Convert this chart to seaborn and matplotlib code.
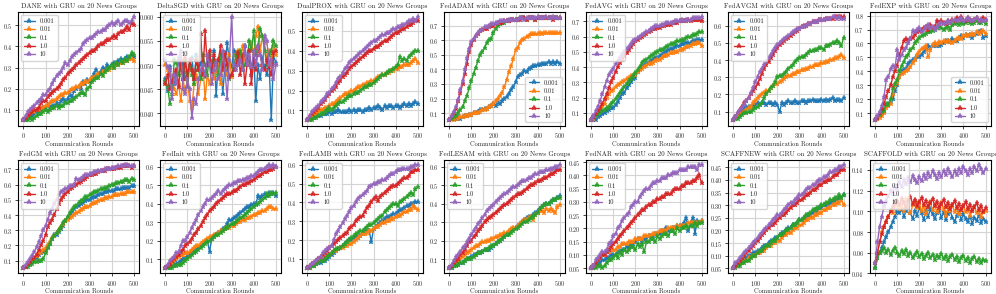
import matplotlib
matplotlib.use("Agg")
import matplotlib.pyplot as plt
from matplotlib.ticker import MultipleLocator
import seaborn as sns

rounds = list(range(0, 501, 10))
lrs = ["0.001", "0.01", "0.1", "1.0", "10"]

# each panel: series for lr 0.001, 0.01, 0.1, 1.0, 10
dane = [
    [0.05,0.05,0.06,0.07,0.07,0.08,0.09,0.08,0.10,0.11,0.10,0.12,0.11,0.12,0.12,0.13,0.12,0.14,0.15,0.14,
     0.15,0.17,0.16,0.19,0.20,0.21,0.20,0.23,0.22,0.24,0.23,0.25,0.27,0.29,0.27,0.28,0.30,0.29,0.31,0.30,
     0.31,0.32,0.31,0.33,0.34,0.33,0.34,0.35,0.34,0.36,0.35],
    [0.05,0.06,0.07,0.08,0.09,0.09,0.10,0.10,0.11,0.11,0.12,0.12,0.13,0.14,0.14,0.15,0.16,0.17,0.17,0.18,
     0.18,0.19,0.20,0.20,0.21,0.21,0.22,0.22,0.23,0.23,0.24,0.25,0.25,0.26,0.27,0.27,0.28,0.28,0.29,0.29,
     0.30,0.30,0.31,0.31,0.32,0.32,0.33,0.33,0.34,0.34,0.33],
    [0.05,0.05,0.05,0.06,0.05,0.06,0.07,0.08,0.08,0.09,0.10,0.09,0.10,0.11,0.11,0.12,0.11,0.12,0.12,0.13,
     0.13,0.14,0.14,0.15,0.16,0.17,0.18,0.18,0.17,0.20,0.21,0.23,0.24,0.25,0.25,0.27,0.26,0.28,0.29,0.30,
     0.31,0.30,0.32,0.31,0.33,0.32,0.34,0.33,0.35,0.37,0.36],
    [0.05,0.06,0.07,0.08,0.09,0.10,0.10,0.11,0.13,0.14,0.14,0.16,0.17,0.18,0.19,0.20,0.21,0.22,0.24,0.25,
     0.27,0.28,0.29,0.30,0.31,0.32,0.33,0.34,0.35,0.36,0.37,0.38,0.38,0.39,0.40,0.41,0.41,0.42,0.43,0.43,
     0.44,0.45,0.44,0.46,0.47,0.47,0.48,0.49,0.48,0.51,0.50],
    [0.05,0.07,0.09,0.10,0.11,0.12,0.13,0.14,0.15,0.17,0.17,0.19,0.20,0.22,0.24,0.26,0.27,0.28,0.30,0.32,
     0.31,0.33,0.35,0.36,0.37,0.38,0.39,0.41,0.42,0.43,0.44,0.44,0.45,0.46,0.47,0.47,0.48,0.48,0.49,0.50,
     0.51,0.50,0.51,0.52,0.50,0.51,0.52,0.52,0.51,0.52,0.54],
]

deltasgd = [
    [0.0470,0.0445,0.0495,0.0465,0.0460,0.0480,0.0510,0.0490,0.0505,0.0470,0.0485,0.0500,0.0515,0.0470,0.0520,
     0.0490,0.0505,0.0480,0.0475,0.0500,0.0510,0.0495,0.0530,0.0435,0.0505,0.0520,0.0440,0.0500,0.0545,0.0510,
     0.0495,0.0530,0.0525,0.0500,0.0510,0.0490,0.0540,0.0505,0.0515,0.0480,0.0520,0.0425,0.0500,0.0470,0.0515,
     0.0495,0.0480,0.0505,0.0385,0.0520,0.0505],
    [0.0500,0.0490,0.0480,0.0470,0.0450,0.0440,0.0460,0.0425,0.0470,0.0445,0.0470,0.0425,0.0410,0.0460,0.0480,
     0.0440,0.0470,0.0500,0.0430,0.0480,0.0460,0.0490,0.0470,0.0485,0.0500,0.0460,0.0500,0.0510,0.0480,0.0520,
     0.0475,0.0490,0.0520,0.0530,0.0515,0.0540,0.0510,0.0500,0.0530,0.0545,0.0520,0.0560,0.0580,0.0530,0.0560,
     0.0545,0.0510,0.0530,0.0500,0.0540,0.0520],
    [0.0465,0.0455,0.0420,0.0440,0.0510,0.0505,0.0480,0.0495,0.0470,0.0510,0.0455,0.0500,0.0480,0.0460,0.0510,
     0.0490,0.0470,0.0520,0.0500,0.0480,0.0520,0.0490,0.0510,0.0500,0.0480,0.0520,0.0500,0.0490,0.0510,0.0470,
     0.0480,0.0500,0.0520,0.0510,0.0530,0.0490,0.0500,0.0510,0.0550,0.0530,0.0570,0.0520,0.0540,0.0575,0.0560,
     0.0530,0.0500,0.0520,0.0530,0.0550,0.0540],
    [0.0460,0.0480,0.0450,0.0465,0.0480,0.0490,0.0455,0.0510,0.0470,0.0515,0.0475,0.0510,0.0490,0.0470,0.0510,
     0.0490,0.0565,0.0480,0.0570,0.0500,0.0530,0.0485,0.0520,0.0500,0.0510,0.0540,0.0490,0.0525,0.0500,0.0475,
     0.0480,0.0490,0.0500,0.0525,0.0480,0.0520,0.0460,0.0500,0.0530,0.0460,0.0510,0.0490,0.0535,0.0520,0.0500,
     0.0490,0.0510,0.0495,0.0480,0.0525,0.0530],
    [0.0510,0.0495,0.0490,0.0430,0.0480,0.0460,0.0515,0.0530,0.0450,0.0440,0.0470,0.0450,0.0390,0.0430,0.0420,
     0.0470,0.0490,0.0500,0.0480,0.0520,0.0500,0.0460,0.0490,0.0505,0.0470,0.0480,0.0530,0.0490,0.0430,0.0510,
     0.0600,0.0500,0.0490,0.0500,0.0510,0.0490,0.0540,0.0500,0.0520,0.0495,0.0530,0.0500,0.0540,0.0520,0.0490,
     0.0560,0.0550,0.0500,0.0510,0.0470,0.0500],
]

dualprox = [
    [0.05,0.06,0.06,0.06,0.07,0.07,0.07,0.08,0.08,0.08,0.09,0.08,0.09,0.09,0.10,0.09,0.09,0.09,0.09,0.10,
     0.09,0.10,0.09,0.10,0.10,0.09,0.10,0.10,0.11,0.10,0.11,0.11,0.12,0.11,0.10,0.12,0.11,0.12,0.12,0.11,
     0.12,0.12,0.11,0.12,0.13,0.12,0.13,0.12,0.13,0.14,0.13],
    [0.05,0.06,0.07,0.08,0.08,0.09,0.10,0.10,0.11,0.11,0.12,0.13,0.13,0.14,0.15,0.16,0.17,0.18,0.18,0.19,
     0.20,0.20,0.21,0.22,0.22,0.23,0.23,0.24,0.24,0.25,0.25,0.26,0.27,0.27,0.28,0.28,0.29,0.29,0.30,0.30,
     0.31,0.31,0.32,0.32,0.33,0.33,0.33,0.34,0.35,0.36,0.34],
    [0.05,0.05,0.05,0.06,0.06,0.07,0.08,0.08,0.09,0.10,0.11,0.10,0.11,0.12,0.13,0.14,0.14,0.15,0.16,0.17,
     0.17,0.18,0.19,0.19,0.20,0.21,0.22,0.22,0.23,0.23,0.24,0.25,0.26,0.27,0.28,0.28,0.29,0.30,0.30,0.31,
     0.32,0.33,0.37,0.35,0.36,0.35,0.37,0.38,0.39,0.40,0.40],
    [0.05,0.07,0.08,0.09,0.10,0.11,0.13,0.14,0.15,0.17,0.18,0.20,0.21,0.22,0.24,0.25,0.27,0.28,0.29,0.31,
     0.32,0.33,0.34,0.35,0.36,0.37,0.38,0.39,0.40,0.40,0.41,0.42,0.42,0.43,0.44,0.45,0.45,0.46,0.47,0.48,
     0.49,0.49,0.50,0.51,0.51,0.52,0.53,0.53,0.54,0.55,0.55],
    [0.05,0.07,0.09,0.10,0.11,0.12,0.14,0.15,0.16,0.18,0.19,0.21,0.22,0.24,0.26,0.27,0.29,0.31,0.32,0.34,
     0.35,0.36,0.37,0.38,0.39,0.40,0.41,0.42,0.43,0.44,0.45,0.45,0.46,0.47,0.48,0.48,0.49,0.49,0.50,0.51,
     0.51,0.52,0.52,0.53,0.53,0.54,0.55,0.55,0.56,0.55,0.57],
]

fedadam = [
    [0.05,0.06,0.06,0.06,0.07,0.06,0.07,0.08,0.08,0.09,0.09,0.10,0.10,0.11,0.12,0.12,0.13,0.13,0.14,0.15,
     0.16,0.15,0.17,0.16,0.18,0.20,0.21,0.23,0.26,0.28,0.31,0.35,0.36,0.37,0.39,0.38,0.40,0.41,0.42,0.42,
     0.43,0.43,0.44,0.44,0.44,0.45,0.44,0.45,0.44,0.45,0.44],
    [0.05,0.06,0.05,0.07,0.06,0.07,0.07,0.08,0.08,0.09,0.09,0.10,0.10,0.10,0.11,0.12,0.12,0.13,0.14,0.15,
     0.16,0.18,0.20,0.22,0.24,0.28,0.33,0.38,0.42,0.47,0.53,0.55,0.58,0.60,0.61,0.62,0.63,0.64,0.64,0.64,
     0.64,0.65,0.64,0.65,0.65,0.65,0.65,0.65,0.65,0.65,0.65],
    [0.05,0.06,0.07,0.08,0.10,0.12,0.14,0.18,0.22,0.27,0.32,0.37,0.41,0.46,0.50,0.52,0.55,0.58,0.60,0.61,
     0.65,0.68,0.70,0.71,0.72,0.72,0.73,0.73,0.74,0.74,0.74,0.74,0.75,0.75,0.75,0.74,0.75,0.75,0.75,0.74,
     0.75,0.75,0.75,0.75,0.75,0.75,0.75,0.75,0.75,0.75,0.75],
    [0.05,0.08,0.10,0.13,0.18,0.24,0.30,0.37,0.44,0.52,0.57,0.60,0.63,0.64,0.66,0.67,0.68,0.68,0.69,0.70,
     0.70,0.71,0.72,0.72,0.72,0.73,0.73,0.73,0.74,0.74,0.74,0.74,0.74,0.75,0.75,0.74,0.75,0.75,0.75,0.74,
     0.75,0.75,0.75,0.75,0.75,0.75,0.75,0.74,0.75,0.75,0.75],
    [0.05,0.08,0.11,0.14,0.19,0.26,0.32,0.40,0.48,0.54,0.59,0.61,0.63,0.65,0.66,0.67,0.69,0.69,0.70,0.71,
     0.71,0.72,0.72,0.73,0.73,0.73,0.73,0.74,0.74,0.74,0.74,0.74,0.75,0.75,0.74,0.75,0.75,0.75,0.75,0.75,
     0.76,0.75,0.75,0.75,0.76,0.75,0.75,0.76,0.75,0.75,0.75],
]

fedavg = [
    [0.05,0.05,0.05,0.07,0.08,0.09,0.10,0.11,0.12,0.13,0.13,0.15,0.17,0.20,0.22,0.23,0.26,0.28,0.30,0.32,
     0.33,0.37,0.39,0.40,0.41,0.42,0.43,0.44,0.45,0.46,0.46,0.47,0.48,0.49,0.50,0.51,0.52,0.52,0.53,0.54,
     0.54,0.55,0.55,0.56,0.56,0.56,0.57,0.57,0.58,0.58,0.58],
    [0.05,0.06,0.08,0.10,0.12,0.14,0.16,0.20,0.22,0.24,0.25,0.27,0.28,0.29,0.30,0.31,0.32,0.33,0.34,0.34,
     0.35,0.37,0.38,0.39,0.40,0.41,0.42,0.42,0.43,0.44,0.45,0.45,0.46,0.47,0.47,0.48,0.49,0.49,0.50,0.50,
     0.51,0.51,0.52,0.53,0.53,0.54,0.55,0.55,0.56,0.56,0.54],
    [0.05,0.07,0.08,0.09,0.10,0.11,0.12,0.13,0.14,0.16,0.17,0.19,0.21,0.23,0.25,0.27,0.29,0.31,0.32,0.34,
     0.36,0.38,0.40,0.43,0.44,0.45,0.46,0.47,0.48,0.49,0.50,0.51,0.51,0.52,0.53,0.54,0.55,0.55,0.56,0.57,
     0.57,0.58,0.58,0.59,0.60,0.60,0.61,0.61,0.62,0.63,0.63],
    [0.05,0.07,0.09,0.11,0.13,0.16,0.19,0.22,0.26,0.30,0.33,0.37,0.40,0.43,0.45,0.47,0.49,0.51,0.53,0.55,
     0.57,0.58,0.59,0.60,0.61,0.62,0.63,0.64,0.65,0.65,0.66,0.66,0.67,0.67,0.68,0.68,0.68,0.69,0.69,0.69,
     0.70,0.70,0.70,0.70,0.71,0.70,0.71,0.71,0.71,0.71,0.70],
    [0.05,0.08,0.11,0.14,0.18,0.22,0.27,0.31,0.35,0.37,0.39,0.42,0.44,0.46,0.48,0.50,0.52,0.53,0.55,0.57,
     0.58,0.59,0.60,0.61,0.62,0.63,0.64,0.65,0.66,0.67,0.67,0.67,0.68,0.68,0.69,0.69,0.69,0.69,0.70,0.70,
     0.70,0.71,0.70,0.71,0.71,0.71,0.72,0.72,0.72,0.72,0.73],
]

fedavgm = [
    [0.05,0.07,0.09,0.10,0.11,0.12,0.13,0.13,0.13,0.14,0.14,0.15,0.14,0.15,0.15,0.14,0.15,0.15,0.14,0.15,
     0.14,0.10,0.15,0.14,0.15,0.16,0.15,0.15,0.16,0.15,0.15,0.16,0.16,0.15,0.16,0.16,0.17,0.16,0.16,0.16,
     0.17,0.16,0.17,0.16,0.17,0.18,0.16,0.17,0.17,0.16,0.18],
    [0.05,0.06,0.07,0.08,0.09,0.10,0.11,0.12,0.13,0.15,0.16,0.18,0.19,0.20,0.21,0.22,0.22,0.24,0.25,0.26,
     0.26,0.27,0.28,0.29,0.30,0.31,0.31,0.32,0.32,0.33,0.33,0.34,0.34,0.35,0.35,0.36,0.36,0.37,0.37,0.37,
     0.38,0.38,0.39,0.39,0.40,0.40,0.41,0.41,0.42,0.43,0.41],
    [0.05,0.06,0.06,0.07,0.08,0.09,0.09,0.10,0.10,0.11,0.12,0.13,0.14,0.15,0.18,0.20,0.22,0.24,0.25,0.27,
     0.30,0.31,0.31,0.32,0.33,0.35,0.36,0.37,0.39,0.40,0.41,0.42,0.42,0.43,0.44,0.45,0.45,0.46,0.46,0.47,
     0.47,0.46,0.48,0.48,0.49,0.50,0.50,0.51,0.50,0.48,0.53],
    [0.05,0.07,0.09,0.11,0.13,0.15,0.16,0.18,0.20,0.22,0.24,0.26,0.29,0.32,0.35,0.37,0.39,0.41,0.43,0.45,
     0.47,0.49,0.50,0.51,0.52,0.53,0.54,0.55,0.56,0.57,0.58,0.59,0.60,0.60,0.61,0.61,0.62,0.62,0.62,0.63,
     0.63,0.63,0.64,0.64,0.64,0.64,0.65,0.65,0.65,0.65,0.65],
    [0.05,0.07,0.09,0.11,0.12,0.14,0.16,0.18,0.21,0.24,0.27,0.30,0.33,0.35,0.37,0.39,0.41,0.43,0.45,0.47,
     0.49,0.50,0.51,0.52,0.53,0.54,0.55,0.56,0.57,0.58,0.58,0.59,0.59,0.60,0.61,0.61,0.62,0.62,0.62,0.63,
     0.63,0.63,0.64,0.64,0.64,0.65,0.65,0.64,0.65,0.64,0.64],
]

fedexp = [
    [0.05,0.06,0.08,0.10,0.12,0.15,0.17,0.18,0.20,0.26,0.30,0.36,0.40,0.41,0.42,0.45,0.47,0.48,0.49,0.51,
     0.50,0.52,0.54,0.56,0.58,0.57,0.58,0.59,0.58,0.58,0.59,0.60,0.62,0.62,0.61,0.63,0.62,0.62,0.64,0.65,
     0.64,0.66,0.65,0.66,0.64,0.66,0.67,0.68,0.69,0.64,0.65],
    [0.05,0.06,0.07,0.08,0.10,0.14,0.15,0.17,0.24,0.30,0.32,0.36,0.38,0.39,0.40,0.41,0.43,0.46,0.48,0.52,
     0.54,0.56,0.57,0.58,0.50,0.55,0.59,0.60,0.59,0.61,0.60,0.62,0.61,0.62,0.61,0.60,0.62,0.63,0.64,0.63,
     0.65,0.66,0.65,0.66,0.67,0.66,0.68,0.67,0.68,0.69,0.67],
    [0.05,0.07,0.09,0.11,0.12,0.17,0.16,0.20,0.28,0.31,0.34,0.40,0.44,0.47,0.50,0.52,0.55,0.57,0.60,0.62,
     0.64,0.65,0.66,0.67,0.68,0.68,0.69,0.70,0.71,0.72,0.71,0.70,0.71,0.72,0.70,0.73,0.74,0.75,0.73,0.75,
     0.74,0.75,0.76,0.75,0.74,0.75,0.76,0.75,0.75,0.76,0.74],
    [0.05,0.07,0.10,0.13,0.17,0.22,0.26,0.30,0.36,0.40,0.44,0.52,0.57,0.62,0.63,0.62,0.63,0.64,0.66,0.68,
     0.69,0.70,0.71,0.72,0.70,0.73,0.71,0.72,0.76,0.75,0.76,0.75,0.74,0.76,0.75,0.77,0.76,0.78,0.77,0.79,
     0.77,0.76,0.78,0.77,0.76,0.77,0.78,0.76,0.77,0.78,0.77],
    [0.05,0.08,0.11,0.15,0.22,0.34,0.36,0.42,0.44,0.43,0.55,0.48,0.52,0.55,0.57,0.60,0.63,0.69,0.68,0.70,
     0.71,0.68,0.70,0.72,0.73,0.71,0.72,0.70,0.72,0.74,0.75,0.74,0.75,0.76,0.75,0.76,0.77,0.76,0.77,0.78,
     0.76,0.77,0.78,0.77,0.76,0.77,0.78,0.76,0.77,0.76,0.77],
]

fedgm = [
    [0.05,0.06,0.07,0.08,0.10,0.11,0.12,0.14,0.15,0.16,0.17,0.19,0.21,0.24,0.27,0.27,0.29,0.31,0.33,0.36,
     0.38,0.40,0.42,0.44,0.45,0.46,0.47,0.48,0.49,0.50,0.50,0.51,0.52,0.52,0.53,0.54,0.54,0.55,0.55,0.56,
     0.56,0.56,0.57,0.57,0.57,0.58,0.58,0.58,0.58,0.59,0.59],
    [0.05,0.06,0.07,0.08,0.10,0.11,0.13,0.15,0.16,0.17,0.18,0.20,0.22,0.25,0.26,0.28,0.30,0.32,0.34,0.36,
     0.37,0.38,0.39,0.40,0.41,0.42,0.43,0.44,0.45,0.45,0.46,0.47,0.48,0.48,0.49,0.50,0.50,0.51,0.51,0.52,
     0.52,0.53,0.53,0.53,0.54,0.54,0.54,0.55,0.55,0.55,0.55],
    [0.05,0.06,0.06,0.07,0.08,0.09,0.09,0.10,0.10,0.11,0.15,0.18,0.21,0.24,0.26,0.28,0.30,0.32,0.35,0.36,
     0.39,0.41,0.43,0.45,0.46,0.48,0.49,0.50,0.52,0.52,0.53,0.54,0.55,0.55,0.56,0.57,0.57,0.58,0.58,0.59,
     0.60,0.60,0.61,0.61,0.62,0.62,0.63,0.63,0.62,0.64,0.63],
    [0.05,0.06,0.08,0.09,0.11,0.12,0.14,0.17,0.20,0.23,0.27,0.32,0.35,0.37,0.40,0.44,0.47,0.50,0.52,0.54,
     0.55,0.57,0.58,0.59,0.60,0.61,0.62,0.63,0.64,0.65,0.66,0.66,0.67,0.67,0.68,0.69,0.69,0.69,0.70,0.70,
     0.70,0.70,0.71,0.71,0.71,0.72,0.72,0.72,0.72,0.71,0.72],
    [0.05,0.07,0.09,0.11,0.13,0.16,0.19,0.22,0.26,0.30,0.33,0.37,0.41,0.44,0.47,0.50,0.53,0.55,0.56,0.57,
     0.58,0.59,0.59,0.60,0.64,0.63,0.64,0.65,0.66,0.66,0.67,0.67,0.68,0.68,0.69,0.69,0.69,0.70,0.70,0.70,
     0.71,0.71,0.71,0.72,0.72,0.72,0.73,0.73,0.72,0.72,0.72],
]

fedinit = [
    [0.05,0.06,0.06,0.07,0.07,0.08,0.08,0.09,0.10,0.10,0.11,0.12,0.13,0.14,0.15,0.16,0.17,0.18,0.19,0.20,
     0.14,0.21,0.22,0.23,0.24,0.25,0.26,0.27,0.29,0.31,0.31,0.32,0.33,0.34,0.35,0.36,0.37,0.38,0.38,0.39,
     0.40,0.40,0.44,0.43,0.44,0.45,0.44,0.46,0.45,0.46,0.44],
    [0.05,0.06,0.07,0.08,0.09,0.10,0.11,0.12,0.12,0.13,0.13,0.14,0.15,0.16,0.17,0.17,0.18,0.19,0.20,0.21,
     0.22,0.22,0.23,0.23,0.24,0.25,0.25,0.26,0.27,0.27,0.28,0.28,0.29,0.30,0.30,0.31,0.31,0.32,0.32,0.33,
     0.34,0.34,0.35,0.35,0.36,0.36,0.37,0.38,0.38,0.37,0.37],
    [0.05,0.05,0.05,0.05,0.06,0.06,0.07,0.07,0.08,0.09,0.10,0.11,0.12,0.13,0.14,0.15,0.16,0.17,0.18,0.19,
     0.20,0.21,0.22,0.23,0.23,0.24,0.25,0.26,0.27,0.28,0.29,0.29,0.30,0.31,0.32,0.33,0.34,0.35,0.36,0.37,
     0.38,0.39,0.40,0.41,0.42,0.43,0.45,0.44,0.46,0.45,0.46],
    [0.05,0.06,0.07,0.09,0.10,0.11,0.12,0.14,0.15,0.17,0.18,0.19,0.21,0.23,0.24,0.26,0.28,0.30,0.32,0.34,
     0.36,0.37,0.38,0.40,0.41,0.42,0.43,0.44,0.45,0.45,0.46,0.47,0.47,0.48,0.49,0.50,0.50,0.51,0.51,0.52,
     0.53,0.54,0.55,0.55,0.56,0.57,0.57,0.58,0.58,0.59,0.60],
    [0.05,0.07,0.09,0.10,0.11,0.13,0.14,0.17,0.20,0.20,0.22,0.24,0.27,0.29,0.31,0.34,0.36,0.38,0.40,0.42,
     0.42,0.43,0.44,0.45,0.47,0.45,0.47,0.48,0.49,0.50,0.50,0.51,0.51,0.52,0.52,0.53,0.53,0.54,0.54,0.55,
     0.55,0.56,0.57,0.58,0.58,0.59,0.60,0.61,0.60,0.61,0.60],
]

fedlamb = [
    [0.05,0.05,0.06,0.06,0.07,0.08,0.08,0.09,0.09,0.10,0.11,0.12,0.13,0.14,0.15,0.16,0.17,0.18,0.19,0.20,
     0.20,0.21,0.22,0.21,0.22,0.23,0.24,0.25,0.25,0.19,0.26,0.27,0.28,0.29,0.30,0.31,0.32,0.32,0.33,0.34,
     0.34,0.35,0.36,0.36,0.37,0.38,0.38,0.39,0.39,0.40,0.40],
    [0.05,0.05,0.06,0.07,0.08,0.09,0.10,0.10,0.11,0.12,0.12,0.13,0.14,0.14,0.15,0.16,0.16,0.17,0.17,0.18,
     0.18,0.19,0.20,0.21,0.22,0.23,0.23,0.24,0.25,0.25,0.26,0.27,0.27,0.28,0.29,0.29,0.30,0.30,0.31,0.31,
     0.32,0.33,0.33,0.34,0.35,0.35,0.36,0.36,0.38,0.37,0.36],
    [0.05,0.05,0.06,0.06,0.07,0.08,0.09,0.09,0.10,0.11,0.12,0.13,0.14,0.15,0.15,0.16,0.17,0.18,0.19,0.20,
     0.21,0.22,0.23,0.24,0.25,0.25,0.26,0.27,0.28,0.28,0.29,0.30,0.31,0.32,0.33,0.35,0.36,0.37,0.38,0.39,
     0.39,0.38,0.40,0.41,0.42,0.43,0.44,0.45,0.44,0.47,0.48],
    [0.05,0.06,0.07,0.08,0.09,0.10,0.11,0.12,0.13,0.14,0.16,0.17,0.18,0.19,0.20,0.21,0.22,0.23,0.24,0.26,
     0.27,0.28,0.30,0.31,0.32,0.33,0.35,0.37,0.38,0.40,0.42,0.43,0.41,0.43,0.44,0.45,0.46,0.47,0.48,0.49,
     0.49,0.50,0.51,0.52,0.53,0.53,0.54,0.56,0.56,0.57,0.57],
    [0.05,0.06,0.07,0.08,0.09,0.10,0.11,0.13,0.14,0.15,0.16,0.17,0.20,0.23,0.25,0.27,0.29,0.31,0.33,0.35,
     0.37,0.38,0.40,0.42,0.43,0.44,0.45,0.46,0.48,0.49,0.50,0.50,0.51,0.51,0.52,0.52,0.53,0.54,0.55,0.55,
     0.56,0.57,0.57,0.58,0.58,0.58,0.58,0.59,0.59,0.60,0.60],
]

fedlesam = [
    [0.05,0.05,0.06,0.07,0.07,0.08,0.08,0.09,0.10,0.10,0.11,0.12,0.12,0.13,0.13,0.14,0.15,0.15,0.15,0.16,
     0.17,0.18,0.19,0.20,0.21,0.22,0.23,0.24,0.25,0.26,0.27,0.28,0.29,0.30,0.31,0.32,0.33,0.33,0.34,0.35,
     0.36,0.37,0.38,0.39,0.40,0.40,0.41,0.42,0.42,0.43,0.44],
    [0.05,0.06,0.07,0.08,0.09,0.10,0.11,0.12,0.13,0.14,0.15,0.16,0.17,0.17,0.18,0.19,0.19,0.20,0.20,0.21,
     0.21,0.22,0.22,0.23,0.23,0.24,0.24,0.25,0.26,0.27,0.27,0.28,0.29,0.30,0.31,0.31,0.32,0.33,0.31,0.34,
     0.35,0.36,0.36,0.35,0.37,0.36,0.37,0.36,0.35,0.38,0.39],
    [0.05,0.05,0.06,0.06,0.07,0.08,0.08,0.09,0.10,0.10,0.10,0.11,0.12,0.13,0.13,0.14,0.15,0.15,0.16,0.17,
     0.17,0.18,0.19,0.20,0.21,0.22,0.23,0.23,0.24,0.25,0.26,0.27,0.28,0.29,0.30,0.30,0.31,0.32,0.33,0.34,
     0.35,0.37,0.38,0.39,0.40,0.40,0.41,0.42,0.42,0.43,0.43],
    [0.05,0.06,0.08,0.09,0.10,0.12,0.13,0.15,0.17,0.19,0.20,0.22,0.23,0.25,0.26,0.28,0.30,0.31,0.32,0.33,
     0.34,0.35,0.36,0.37,0.38,0.39,0.40,0.41,0.42,0.43,0.44,0.45,0.45,0.46,0.47,0.48,0.49,0.50,0.50,0.51,
     0.52,0.52,0.53,0.54,0.54,0.55,0.56,0.56,0.57,0.58,0.58],
    [0.05,0.07,0.09,0.11,0.12,0.14,0.16,0.17,0.19,0.21,0.23,0.25,0.27,0.29,0.30,0.32,0.34,0.36,0.37,0.38,
     0.39,0.41,0.42,0.43,0.44,0.45,0.46,0.47,0.48,0.49,0.49,0.50,0.51,0.52,0.52,0.53,0.54,0.54,0.55,0.56,
     0.56,0.57,0.57,0.57,0.58,0.58,0.59,0.59,0.60,0.60,0.61],
]

fednar = [
    [0.05,0.05,0.06,0.07,0.07,0.08,0.08,0.09,0.09,0.10,0.10,0.10,0.11,0.11,0.12,0.12,0.13,0.13,0.14,0.14,
     0.15,0.16,0.16,0.15,0.16,0.16,0.17,0.17,0.17,0.18,0.18,0.18,0.19,0.19,0.20,0.19,0.19,0.20,0.20,0.21,
     0.21,0.21,0.22,0.24,0.19,0.22,0.24,0.18,0.23,0.22,0.23],
    [0.05,0.06,0.07,0.08,0.09,0.10,0.10,0.11,0.11,0.12,0.12,0.12,0.13,0.13,0.14,0.14,0.14,0.15,0.15,0.15,
     0.16,0.16,0.16,0.16,0.17,0.17,0.17,0.17,0.18,0.18,0.18,0.19,0.19,0.19,0.19,0.20,0.20,0.20,0.20,0.21,
     0.21,0.21,0.21,0.21,0.22,0.22,0.22,0.22,0.22,0.22,0.23],
    [0.05,0.05,0.05,0.06,0.06,0.05,0.06,0.07,0.08,0.08,0.09,0.10,0.09,0.11,0.10,0.12,0.11,0.12,0.13,0.13,
     0.12,0.14,0.13,0.14,0.11,0.15,0.15,0.16,0.16,0.15,0.17,0.16,0.17,0.18,0.18,0.17,0.19,0.19,0.18,0.20,
     0.19,0.20,0.20,0.21,0.20,0.21,0.21,0.22,0.21,0.22,0.22],
    [0.05,0.06,0.07,0.08,0.09,0.10,0.10,0.11,0.12,0.13,0.14,0.15,0.16,0.17,0.18,0.19,0.20,0.21,0.22,0.23,
     0.24,0.25,0.26,0.27,0.27,0.28,0.29,0.29,0.30,0.30,0.31,0.31,0.32,0.32,0.33,0.33,0.33,0.34,0.35,0.35,
     0.35,0.36,0.36,0.37,0.37,0.37,0.38,0.38,0.39,0.40,0.37],
    [0.05,0.06,0.08,0.09,0.10,0.11,0.11,0.12,0.14,0.15,0.17,0.18,0.20,0.21,0.23,0.24,0.25,0.26,0.28,0.29,
     0.30,0.30,0.32,0.33,0.34,0.35,0.35,0.36,0.37,0.37,0.38,0.38,0.39,0.39,0.39,0.40,0.40,0.41,0.41,0.41,
     0.42,0.42,0.42,0.42,0.43,0.43,0.43,0.43,0.42,0.44,0.44],
]

scaffnew = [
    [0.05,0.06,0.07,0.07,0.08,0.09,0.09,0.10,0.10,0.11,0.11,0.12,0.12,0.13,0.14,0.14,0.15,0.16,0.16,0.17,
     0.17,0.18,0.19,0.19,0.20,0.21,0.21,0.22,0.22,0.23,0.24,0.24,0.25,0.25,0.26,0.26,0.27,0.28,0.27,0.29,
     0.29,0.30,0.30,0.29,0.31,0.31,0.32,0.32,0.33,0.33,0.34],
    [0.05,0.06,0.06,0.07,0.07,0.08,0.08,0.09,0.09,0.10,0.10,0.11,0.11,0.12,0.12,0.13,0.14,0.14,0.15,0.15,
     0.16,0.16,0.17,0.18,0.18,0.19,0.19,0.20,0.21,0.21,0.22,0.22,0.23,0.24,0.24,0.25,0.25,0.26,0.26,0.27,
     0.27,0.28,0.28,0.29,0.29,0.30,0.30,0.31,0.31,0.32,0.30],
    [0.05,0.05,0.06,0.06,0.07,0.07,0.08,0.08,0.09,0.10,0.10,0.11,0.12,0.12,0.13,0.14,0.14,0.15,0.16,0.16,
     0.17,0.18,0.18,0.19,0.20,0.20,0.21,0.22,0.22,0.23,0.24,0.24,0.25,0.26,0.26,0.27,0.28,0.28,0.29,0.29,
     0.30,0.30,0.31,0.31,0.32,0.32,0.33,0.33,0.34,0.33,0.34],
    [0.05,0.06,0.07,0.08,0.09,0.10,0.11,0.12,0.13,0.14,0.15,0.16,0.17,0.18,0.19,0.20,0.21,0.22,0.22,0.23,
     0.24,0.25,0.26,0.26,0.27,0.28,0.29,0.30,0.30,0.31,0.32,0.32,0.33,0.34,0.34,0.35,0.36,0.36,0.37,0.38,
     0.38,0.39,0.39,0.40,0.40,0.41,0.42,0.42,0.43,0.44,0.44],
    [0.05,0.07,0.08,0.09,0.10,0.11,0.12,0.13,0.14,0.15,0.16,0.17,0.18,0.19,0.20,0.21,0.22,0.23,0.24,0.25,
     0.26,0.26,0.27,0.28,0.29,0.30,0.31,0.31,0.32,0.33,0.34,0.34,0.35,0.36,0.37,0.37,0.38,0.38,0.39,0.40,
     0.40,0.41,0.41,0.42,0.43,0.43,0.44,0.44,0.45,0.45,0.46],
]

scaffold = [
    [0.045,0.055,0.060,0.065,0.070,0.075,0.080,0.085,0.090,0.095,0.100,0.098,0.102,0.095,0.100,0.105,0.098,
     0.093,0.100,0.096,0.104,0.098,0.092,0.100,0.095,0.102,0.097,0.093,0.098,0.101,0.094,0.099,0.092,0.097,
     0.100,0.094,0.090,0.096,0.099,0.092,0.097,0.093,0.090,0.095,0.088,0.094,0.091,0.096,0.089,0.093,0.090],
    [0.050,0.060,0.070,0.080,0.085,0.090,0.095,0.100,0.098,0.105,0.110,0.102,0.108,0.100,0.112,0.105,0.098,
     0.106,0.110,0.103,0.108,0.100,0.105,0.097,0.104,0.109,0.101,0.106,0.099,0.103,0.108,0.102,0.096,0.104,
     0.100,0.106,0.099,0.103,0.097,0.101,0.105,0.099,0.102,0.096,0.100,0.104,0.098,0.101,0.095,0.099,0.100],
    [0.045,0.055,0.060,0.062,0.065,0.060,0.063,0.058,0.062,0.065,0.060,0.057,0.062,0.059,0.063,0.057,0.060,
     0.055,0.058,0.061,0.056,0.059,0.054,0.057,0.060,0.055,0.058,0.053,0.057,0.055,0.059,0.054,0.057,0.052,
     0.056,0.058,0.053,0.056,0.051,0.055,0.057,0.052,0.055,0.050,0.054,0.056,0.051,0.054,0.050,0.053,0.052],
    [0.050,0.060,0.070,0.078,0.085,0.090,0.095,0.100,0.104,0.108,0.110,0.106,0.112,0.108,0.104,0.110,0.114,
     0.107,0.111,0.105,0.109,0.113,0.106,0.110,0.104,0.108,0.112,0.105,0.109,0.103,0.107,0.111,0.104,0.108,
     0.102,0.106,0.110,0.103,0.107,0.101,0.105,0.109,0.102,0.106,0.100,0.104,0.108,0.101,0.105,0.099,0.103],
    [0.050,0.070,0.085,0.095,0.105,0.110,0.115,0.120,0.118,0.125,0.122,0.128,0.124,0.130,0.126,0.132,0.128,
     0.134,0.130,0.127,0.133,0.129,0.135,0.131,0.137,0.133,0.139,0.135,0.131,0.137,0.133,0.139,0.135,0.141,
     0.137,0.133,0.139,0.135,0.141,0.137,0.143,0.139,0.135,0.141,0.137,0.143,0.139,0.145,0.141,0.137,0.141],
]

panels = [
    ("DANE", dane), ("DeltaSGD", deltasgd), ("DualPROX", dualprox), ("FedADAM", fedadam),
    ("FedAVG", fedavg), ("FedAVGM", fedavgm), ("FedEXP", fedexp),
    ("FedGM", fedgm), ("FedInit", fedinit), ("FedLAMB", fedlamb), ("FedLESAM", fedlesam),
    ("FedNAR", fednar), ("SCAFFNEW", scaffnew), ("SCAFFOLD", scaffold),
]
lower_right = ["FedADAM", "FedEXP"]

sns.set_style("whitegrid")
plt.rcParams.update({
    "font.family": ["cmr10", "DejaVu Serif"],
    "mathtext.fontset": "cm",
    "axes.formatter.use_mathtext": True,
    "axes.edgecolor": "black",
    "axes.linewidth": 0.8,
    "grid.color": "#d4d4d4",
    "grid.linewidth": 0.8,
    "xtick.bottom": True,
    "ytick.left": True,
    "xtick.major.size": 2.5,
    "ytick.major.size": 2.5,
    "xtick.major.width": 0.6,
    "ytick.major.width": 0.6,
    "xtick.labelsize": 4.4,
    "ytick.labelsize": 4.4,
    "xtick.major.pad": 1.5,
    "ytick.major.pad": 1.5,
})

colors = sns.color_palette("tab10", 5)

fig, axes = plt.subplots(2, 7, figsize=(9.96, 2.94), dpi=100)
for ax, (name, series) in zip(axes.flat, panels):
    for lr, vals, c in zip(lrs, series, colors):
        sns.lineplot(x=rounds, y=vals, ax=ax, color=c, label=lr, marker="*",
                     markersize=3.7, markeredgewidth=0.3, markeredgecolor=c, linewidth=1.0)
    ax.set_title(f"{name} with GRU on 20 News Groups", fontsize=5.0, pad=2.5)
    ax.set_xlabel("Communication Rounds", fontsize=4.6, labelpad=0.5)
    ax.set_ylabel("")
    ax.set_xticks([0, 100, 200, 300, 400, 500])
    if name in ("FedNAR", "SCAFFNEW"):
        ax.yaxis.set_major_locator(MultipleLocator(0.05))
    loc = "lower right" if name in lower_right else "upper left"
    ax.legend(loc=loc, fontsize=4.6, handlelength=1.6, borderpad=0.5, labelspacing=0.4,
              frameon=True, edgecolor="#cccccc", fancybox=True)

plt.subplots_adjust(left=0.018, right=0.995, top=0.96, bottom=0.07, wspace=0.17, hspace=0.3)
plt.savefig("out.png", dpi=100)
